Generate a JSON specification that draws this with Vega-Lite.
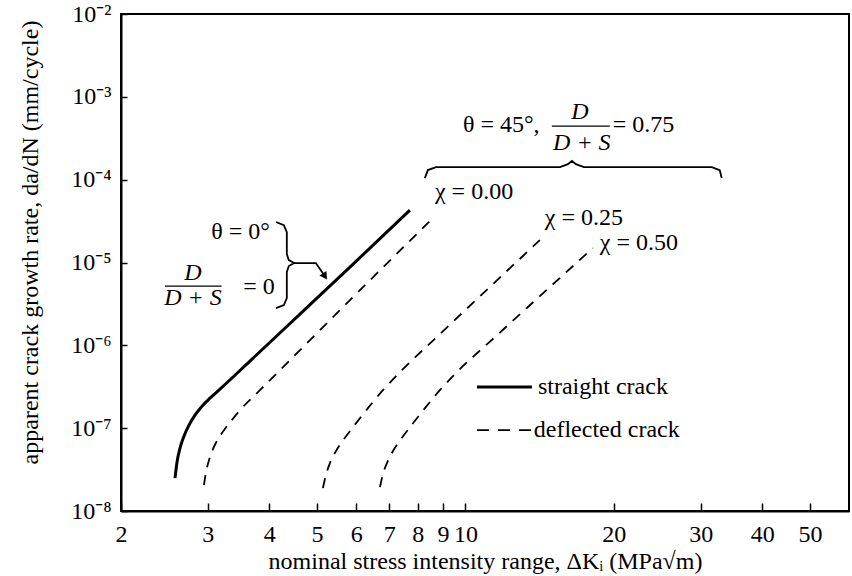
{
  "$schema": "https://vega.github.io/schema/vega-lite/v6.json",
  "width": 728,
  "height": 497,
  "autosize": {"type": "none"},
  "padding": {"left": 121, "top": 14, "right": 3, "bottom": 65},
  "background": "white",
  "config": {
    "view": {"stroke": "black", "strokeWidth": 2},
    "font": "Liberation Serif",
    "text": {"font": "Liberation Serif", "fontSize": 24, "color": "black"}
  },
  "datasets": {
    "curves": [
      {"series": "straight", "K": 2.574, "rate": 2.489e-8},
      {"series": "straight", "K": 2.598, "rate": 3.886e-8},
      {"series": "straight", "K": 2.635, "rate": 5.734e-8},
      {"series": "straight", "K": 2.684, "rate": 8.006e-8},
      {"series": "straight", "K": 2.748, "rate": 1.0869e-7},
      {"series": "straight", "K": 2.826, "rate": 1.4355e-7},
      {"series": "straight", "K": 2.920, "rate": 1.8433e-7},
      {"series": "straight", "K": 3.031, "rate": 2.3029e-7},
      {"series": "straight", "K": 3.176, "rate": 2.958e-7},
      {"series": "straight", "K": 3.653, "rate": 6.447e-7},
      {"series": "straight", "K": 4.615, "rate": 2.381e-6},
      {"series": "straight", "K": 5.829, "rate": 8.798e-6},
      {"series": "straight", "K": 7.714, "rate": 4.294e-5},
      {"series": "chi0", "K": 2.947, "rate": 2.049e-8},
      {"series": "chi0", "K": 2.975, "rate": 2.941e-8},
      {"series": "chi0", "K": 3.017, "rate": 4.107e-8},
      {"series": "chi0", "K": 3.073, "rate": 5.577e-8},
      {"series": "chi0", "K": 3.146, "rate": 7.364e-8},
      {"series": "chi0", "K": 3.236, "rate": 9.458e-8},
      {"series": "chi0", "K": 3.343, "rate": 1.2145e-7},
      {"series": "chi0", "K": 3.487, "rate": 1.6499e-7},
      {"series": "chi0", "K": 3.828, "rate": 2.876e-7},
      {"series": "chi0", "K": 4.615, "rate": 8.75e-7},
      {"series": "chi0", "K": 5.829, "rate": 3.514e-6},
      {"series": "chi0", "K": 8.548, "rate": 3.343e-5},
      {"series": "chi25", "K": 5.137, "rate": 1.886e-8},
      {"series": "chi25", "K": 5.210, "rate": 2.706e-8},
      {"series": "chi25", "K": 5.308, "rate": 3.779e-8},
      {"series": "chi25", "K": 5.459, "rate": 5.275e-8},
      {"series": "chi25", "K": 5.667, "rate": 7.364e-8},
      {"series": "chi25", "K": 5.966, "rate": 1.1023e-7},
      {"series": "chi25", "K": 6.339, "rate": 1.7437e-7},
      {"series": "chi25", "K": 6.800, "rate": 2.876e-7},
      {"series": "chi25", "K": 7.362, "rate": 4.747e-7},
      {"series": "chi25", "K": 8.872, "rate": 1.3656e-6},
      {"series": "chi25", "K": 14.155, "rate": 1.8646e-5},
      {"series": "chi50", "K": 6.706, "rate": 1.9388e-8},
      {"series": "chi50", "K": 6.800, "rate": 2.782e-8},
      {"series": "chi50", "K": 6.927, "rate": 3.779e-8},
      {"series": "chi50", "K": 7.124, "rate": 5.275e-8},
      {"series": "chi50", "K": 7.396, "rate": 7.364e-8},
      {"series": "chi50", "K": 7.786, "rate": 1.1023e-7},
      {"series": "chi50", "K": 8.274, "rate": 1.7437e-7},
      {"series": "chi50", "K": 8.872, "rate": 2.876e-7},
      {"series": "chi50", "K": 9.607, "rate": 4.747e-7},
      {"series": "chi50", "K": 11.473, "rate": 1.2561e-6},
      {"series": "chi50", "K": 18.132, "rate": 1.4925e-5}
    ],
    "braces": [
      {"b": "h", "i": 1, "K": 8.27, "rate": 1.045e-4},
      {"b": "h", "i": 2, "K": 8.39, "rate": 1.306e-4},
      {"b": "h", "i": 3, "K": 8.71, "rate": 1.42e-4},
      {"b": "h", "i": 4, "K": 15.55, "rate": 1.42e-4},
      {"b": "h", "i": 5, "K": 16.14, "rate": 1.54e-4},
      {"b": "h", "i": 6, "K": 16.44, "rate": 1.68e-4},
      {"b": "h", "i": 7, "K": 16.75, "rate": 1.54e-4},
      {"b": "h", "i": 8, "K": 17.39, "rate": 1.42e-4},
      {"b": "h", "i": 9, "K": 31.6, "rate": 1.42e-4},
      {"b": "h", "i": 10, "K": 32.8, "rate": 1.306e-4},
      {"b": "h", "i": 11, "K": 33.1, "rate": 1.045e-4},
      {"b": "v", "i": 1, "K": 4.126, "rate": 3.08e-5},
      {"b": "v", "i": 2, "K": 4.28, "rate": 2.83e-5},
      {"b": "v", "i": 3, "K": 4.34, "rate": 2.33e-5},
      {"b": "v", "i": 4, "K": 4.34, "rate": 1.26e-5},
      {"b": "v", "i": 5, "K": 4.38, "rate": 1.07e-5},
      {"b": "v", "i": 6, "K": 4.49, "rate": 9.84e-6},
      {"b": "v", "i": 7, "K": 4.38, "rate": 9.06e-6},
      {"b": "v", "i": 8, "K": 4.34, "rate": 7.66e-6},
      {"b": "v", "i": 9, "K": 4.34, "rate": 3.72e-6},
      {"b": "v", "i": 10, "K": 4.28, "rate": 3.06e-6},
      {"b": "v", "i": 11, "K": 4.126, "rate": 2.81e-6},
      {"b": "a", "i": 1, "K": 4.49, "rate": 9.84e-6},
      {"b": "a", "i": 2, "K": 4.97, "rate": 9.84e-6},
      {"b": "a", "i": 3, "K": 5.17, "rate": 7.0e-6}
    ],
    "notes": [
      {"pos": "right", "label": "θ = 0°", "K": 4.01, "rate": 2.33e-5},
      {"pos": "center", "label": "D", "K": 2.80, "rate": 7.45e-6},
      {"pos": "center", "label": "D + S", "K": 2.80, "rate": 3.72e-6},
      {"pos": "left", "label": "= 0", "K": 3.54, "rate": 5.05e-6},
      {"pos": "left", "label": "θ = 45°,", "K": 9.88, "rate": 4.56e-4},
      {"pos": "center", "label": "D", "K": 17.06, "rate": 6.55e-4},
      {"pos": "center", "label": "D + S", "K": 17.22, "rate": 2.77e-4},
      {"pos": "left", "label": "= 0.75", "K": 19.9, "rate": 4.56e-4},
      {"pos": "left", "label": "χ = 0.00", "K": 8.67, "rate": 7.08e-5},
      {"pos": "left", "label": "χ = 0.25", "K": 14.49, "rate": 3.44e-5},
      {"pos": "left", "label": "χ = 0.50", "K": 18.73, "rate": 1.71e-5},
      {"pos": "left", "label": "straight crack", "K": 14.03, "rate": 3.13e-7},
      {"pos": "left", "label": "deflected crack", "K": 13.76, "rate": 9.6e-8}
    ],
    "bars": [
      {"kind": "frac", "K": 2.456, "K2": 3.20, "rate": 5.19e-6},
      {"kind": "frac", "K": 14.97, "K2": 19.63, "rate": 4.44e-4},
      {"kind": "solid", "K": 10.55, "K2": 13.64, "rate": 3.13e-7},
      {"kind": "dashed", "K": 10.55, "K2": 13.64, "rate": 9.46e-8}
    ],
    "heads": [
      {"K": 5.17, "rate": 7.0e-6}
    ]
  },
  "encoding": {
    "x": {
      "field": "K", "type": "quantitative",
      "scale": {"type": "log", "domain": [2, 60], "nice": false},
      "axis": {
        "title": "nominal stress intensity range, ΔKᵢ (MPa√m)",
        "values": [2, 3, 4, 5, 6, 7, 8, 9, 10, 20, 30, 40, 50],
        "format": "d",
        "grid": false,
        "domainColor": "black", "domainWidth": 2,
        "tickColor": "black", "tickWidth": 1.5, "tickSize": -8,
        "labelFont": "Liberation Serif", "labelFontSize": 24, "labelColor": "black",
        "labelPadding": 19, "labelFlush": false, "labelOverlap": false,
        "titleFont": "Liberation Serif", "titleFontSize": 24, "titleFontWeight": "normal",
        "titleColor": "black", "titlePadding": 3
      }
    },
    "y": {
      "field": "rate", "type": "quantitative",
      "scale": {"type": "log", "domain": [1e-8, 1e-2], "nice": false},
      "axis": {
        "title": "apparent crack growth rate, da/dN (mm/cycle)",
        "values": [1e-8, 1e-7, 1e-6, 1e-5, 1e-4, 1e-3, 1e-2],
        "labelExpr": "'10⁻' + ['⁰','¹','²','³','⁴','⁵','⁶','⁷','⁸','⁹'][-round(log(datum.value)/LN10)]",
        "grid": false,
        "domainColor": "black", "domainWidth": 2,
        "tickColor": "black", "tickWidth": 1.5, "tickSize": -6,
        "labelFont": "Liberation Serif", "labelFontSize": 24, "labelColor": "black",
        "labelPadding": 16, "labelFlush": false, "labelOverlap": false,
        "titleFont": "Liberation Serif", "titleFontSize": 24, "titleFontWeight": "normal",
        "titleColor": "black", "titlePadding": 28, "titleY": 228
      }
    }
  },
  "layer": [
    {
      "data": {"name": "curves"},
      "transform": [{"filter": "datum.series === 'straight'"}],
      "mark": {"type": "line", "color": "black", "strokeWidth": 3, "interpolate": "monotone"},
      "encoding": {"detail": {"field": "series"}}
    },
    {
      "data": {"name": "curves"},
      "transform": [{"filter": "datum.series !== 'straight'"}],
      "mark": {"type": "line", "color": "black", "strokeWidth": 1.8, "strokeDash": [10, 8], "interpolate": "monotone"},
      "encoding": {"detail": {"field": "series"}}
    },
    {
      "data": {"name": "braces"},
      "mark": {"type": "line", "color": "black", "strokeWidth": 1.8, "interpolate": "linear"},
      "encoding": {"detail": {"field": "b"}, "order": {"field": "i"}}
    },
    {
      "data": {"name": "heads"},
      "mark": {"type": "point", "shape": "triangle", "filled": true, "color": "black", "size": 70, "angle": 147, "opacity": 1},
      "encoding": {}
    },
    {
      "data": {"name": "bars"},
      "transform": [{"filter": "datum.kind !== 'dashed'"}],
      "mark": {"type": "rule", "color": "black"},
      "encoding": {
        "x2": {"field": "K2"},
        "strokeWidth": {"condition": {"test": "datum.kind === 'solid'", "value": 3}, "value": 1.3}
      }
    },
    {
      "data": {"name": "bars"},
      "transform": [{"filter": "datum.kind === 'dashed'"}],
      "mark": {"type": "rule", "color": "black", "strokeWidth": 1.8, "strokeDash": [12, 9]},
      "encoding": {"x2": {"field": "K2"}}
    },
    {
      "data": {"name": "notes"},
      "transform": [{"filter": "datum.pos === 'left'"}],
      "mark": {"type": "text", "align": "left", "baseline": "middle", "fontSize": 24},
      "encoding": {"text": {"field": "label"}}
    },
    {
      "data": {"name": "notes"},
      "transform": [{"filter": "datum.pos === 'center'"}],
      "mark": {"type": "text", "align": "center", "baseline": "middle", "fontSize": 24, "fontStyle": "italic"},
      "encoding": {"text": {"field": "label"}}
    },
    {
      "data": {"name": "notes"},
      "transform": [{"filter": "datum.pos === 'right'"}],
      "mark": {"type": "text", "align": "right", "baseline": "middle", "fontSize": 24},
      "encoding": {"text": {"field": "label"}}
    }
  ]
}
